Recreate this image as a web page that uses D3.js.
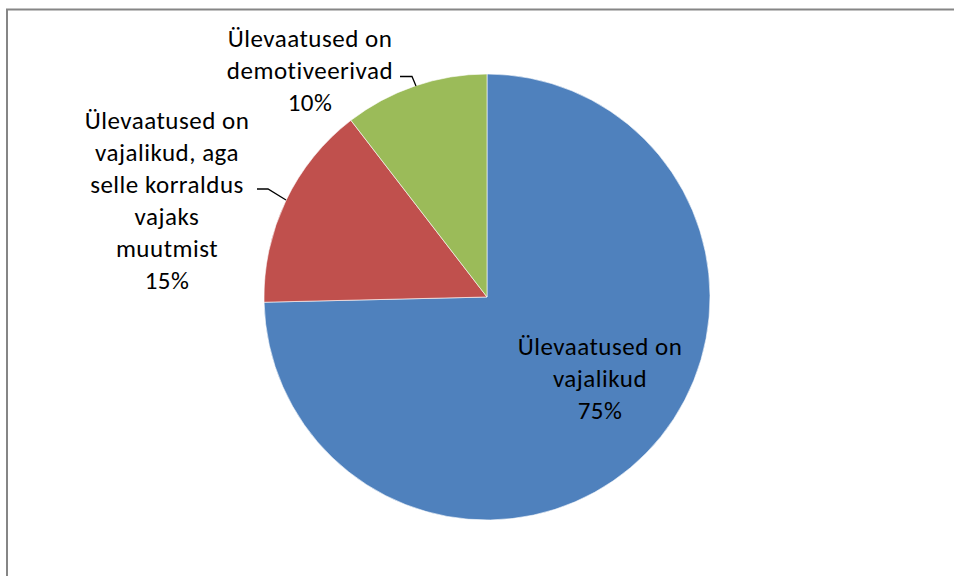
<!DOCTYPE html>
<html><head><meta charset="utf-8">
<script src="https://cdn.jsdelivr.net/npm/d3@7"></script>
<style>
html,body{margin:0;padding:0;background:#fff;}
svg{display:block;}
text{font-family:Carlito,Calibri,Lato,"Open Sans",sans-serif;fill:#000;}
</style></head>
<body>
<svg id="chart" width="954" height="576"></svg>
<script>
// Data
const categories = [
  "Ülevaatused on vajalikud",
  "Ülevaatused on vajalikud, aga selle korraldus vajaks muutmist",
  "Ülevaatused on demotiveerivad"
];
const values = [50, 10, 7];
const labelLines = [
  ["Ülevaatused on", "vajalikud"],
  ["Ülevaatused on", "vajalikud, aga", "selle korraldus", "vajaks", "muutmist"],
  ["Ülevaatused on", "demotiveerivad"]
];
const colors = ["#4F81BD", "#C0504D", "#9BBB59"];

const svg = d3.select("#chart");
const cx = 487, cy = 297, R = 223;

// outer border of the chart area
svg.append("rect").attr("x", 7).attr("y", 9.5).attr("width", 960).attr("height", 580)
  .attr("fill", "#fff").attr("stroke", "#868686").attr("stroke-width", 2);

const total = d3.sum(values);
const pie = d3.pie().sort(null).value(d => d)(values);
const arc = d3.arc().innerRadius(0).outerRadius(R);

const g = svg.append("g").attr("transform", `translate(${cx},${cy})`);
g.selectAll("path.slice").data(pie).join("path")
  .attr("class", "slice")
  .attr("d", arc)
  .attr("fill", (d, i) => colors[i])
  .attr("stroke", "#fff").attr("stroke-width", 0.6);

const fmt = v => Math.round(v / total * 100) + "%";
const fontSize = 25;
const lineH = 32;

// label placement (layout): first-line centre positions
const labelPos = [[600, 346], [167, 120], [310, 38]];

pie.forEach((d, i) => {
  const lines = labelLines[i].concat([fmt(d.value)]);
  const x = labelPos[i][0], y0 = labelPos[i][1];
  const t = svg.append("text").attr("text-anchor", "middle")
    .attr("font-size", fontSize).attr("letter-spacing", 0.5);
  lines.forEach((ln, k) => {
    t.append("tspan").attr("x", x).attr("y", y0 + k * lineH).attr("dy", "0.35em").text(ln);
  });
});

// leader lines
const leaders = [
  [[257, 189], [268, 189], [286, 200]],
  [[400, 76.5], [412, 76.5], [416, 86]]
];
leaders.forEach(pts => {
  svg.append("path").attr("d", d3.line()(pts)).attr("fill", "none")
    .attr("stroke", "#000").attr("stroke-width", 1.3);
});
</script>
</body></html>
